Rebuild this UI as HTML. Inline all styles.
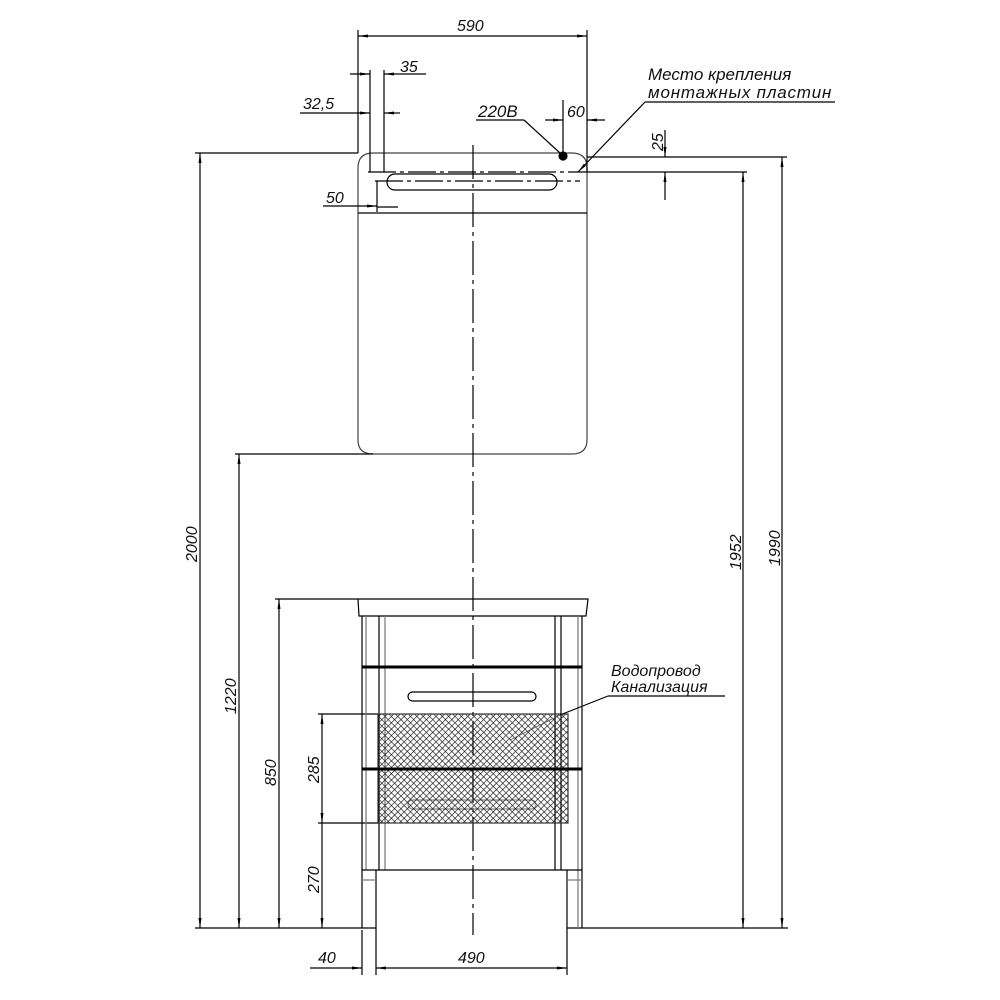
<!DOCTYPE html>
<html><head><meta charset="utf-8"><style>body{margin:0;background:#fff}svg{display:block}text{font-family:"Liberation Sans",sans-serif;font-style:italic;fill:#111}</style></head><body>
<svg width="1000" height="1000" viewBox="0 0 1000 1000" xmlns="http://www.w3.org/2000/svg">
<defs>
<pattern id="h" width="4.5" height="4.5" patternUnits="userSpaceOnUse" patternTransform="rotate(45)"><path d="M0 0H4.5M0 0V4.5" stroke="#111" stroke-width="1.3"/></pattern>
<marker id="a" viewBox="0 0 10 6" refX="10" refY="3" markerWidth="10" markerHeight="5" orient="auto-start-reverse"><path d="M0 1.5L10 3L0 4.5z" fill="#000"/></marker>
</defs>
<g stroke="#000" stroke-width="1.2" fill="none">
<path d="M358 168Q358 153 373 153H572Q587 153 587 168V440Q587 454 572 454H373Q358 454 358 440Z" stroke="#444"/>
<line x1="358" y1="213" x2="587" y2="213"/>
<rect x="387" y="174" width="170" height="16" rx="8"/>
<line x1="368" y1="172" x2="582" y2="172" stroke-dasharray="28 4 4 4"/>
<line x1="375" y1="181" x2="580" y2="181" stroke-dasharray="28 4 4 4"/>
<circle cx="563" cy="156" r="4" fill="#000"/>
<line x1="473" y1="145" x2="473" y2="935" stroke-dasharray="34 5 4 5"/>
<line x1="358" y1="30" x2="358" y2="153"/><line x1="587" y1="30" x2="587" y2="172"/>
<line x1="358" y1="36" x2="587" y2="36" marker-start="url(#a)" marker-end="url(#a)"/>
<line x1="370" y1="70" x2="370" y2="172"/><line x1="384" y1="70" x2="384" y2="172"/>
<line x1="350" y1="74" x2="370" y2="74" marker-end="url(#a)"/><line x1="426" y1="74" x2="384" y2="74" marker-end="url(#a)"/>
<line x1="300" y1="113" x2="370" y2="113" marker-end="url(#a)"/><line x1="400" y1="113" x2="384" y2="113" marker-end="url(#a)"/>
<line x1="377" y1="181" x2="377" y2="212"/>
<line x1="323" y1="206" x2="377" y2="206" marker-end="url(#a)"/><line x1="398" y1="207" x2="377" y2="207"/>
<line x1="476" y1="120" x2="524" y2="120"/><line x1="524" y1="120" x2="560" y2="153"/>
<line x1="545" y1="120" x2="563" y2="120" marker-end="url(#a)"/><line x1="605" y1="120" x2="587" y2="120" marker-end="url(#a)"/>
<line x1="563" y1="100" x2="563" y2="152"/>
<line x1="645" y1="102" x2="835" y2="102"/><line x1="645" y1="102" x2="578" y2="172" marker-end="url(#a)"/>
<line x1="587" y1="157" x2="787" y2="157"/><line x1="582" y1="172" x2="747" y2="172"/>
<line x1="665" y1="130" x2="665" y2="157" marker-end="url(#a)"/><line x1="665" y1="200" x2="665" y2="172" marker-end="url(#a)"/>
<line x1="195" y1="153" x2="358" y2="153"/>
<line x1="200" y1="153" x2="200" y2="928" marker-start="url(#a)" marker-end="url(#a)"/>
<line x1="235" y1="454" x2="373" y2="454"/>
<line x1="239" y1="454" x2="239" y2="928" marker-start="url(#a)" marker-end="url(#a)"/>
<line x1="275" y1="599" x2="358" y2="599"/>
<line x1="279" y1="599" x2="279" y2="928" marker-start="url(#a)" marker-end="url(#a)"/>
<line x1="318" y1="714" x2="378" y2="714"/><line x1="318" y1="823" x2="378" y2="823"/>
<line x1="322" y1="714" x2="322" y2="823" marker-start="url(#a)" marker-end="url(#a)"/>
<line x1="322" y1="823" x2="322" y2="928" marker-end="url(#a)"/>
<line x1="743" y1="172" x2="743" y2="928" marker-start="url(#a)" marker-end="url(#a)"/>
<line x1="782" y1="157" x2="782" y2="928" marker-start="url(#a)" marker-end="url(#a)"/>
<line x1="195" y1="928" x2="376" y2="928"/><line x1="567" y1="928" x2="788" y2="928"/>
<path d="M358 599H588L586 616H359Z"/>
<line x1="362" y1="616" x2="362" y2="928"/><line x1="366" y1="616" x2="366" y2="870" stroke="#777"/>
<line x1="379" y1="616" x2="379" y2="870"/><line x1="385" y1="616" x2="385" y2="870" stroke="#777"/>
<line x1="555" y1="616" x2="555" y2="870"/><line x1="561" y1="616" x2="561" y2="870"/>
<line x1="578" y1="616" x2="578" y2="928" stroke="#777"/><line x1="582" y1="616" x2="582" y2="928"/>
<line x1="362" y1="870" x2="582" y2="870"/>
<line x1="376" y1="870" x2="376" y2="935"/><line x1="567" y1="870" x2="567" y2="935"/>
<line x1="362" y1="880" x2="376" y2="880" stroke="#777"/><line x1="567" y1="880" x2="582" y2="880" stroke="#777"/>
<rect x="408" y="692" width="128" height="9" rx="4.5"/>
<rect x="408" y="800" width="128" height="9" rx="4.5" stroke="#888"/>
<rect x="378" y="714" width="190" height="109" fill="url(#h)" stroke="#333"/>
<line x1="362" y1="667" x2="582" y2="667" stroke-width="3"/>
<line x1="362" y1="769" x2="582" y2="769" stroke-width="3"/>
<line x1="608" y1="696" x2="725" y2="696"/><line x1="608" y1="696" x2="560" y2="715"/><line x1="560" y1="715" x2="510" y2="740" stroke="#555" stroke-width="0.8"/>
<line x1="362" y1="930" x2="362" y2="975"/><line x1="376" y1="935" x2="376" y2="975"/><line x1="567" y1="935" x2="567" y2="975"/>
<line x1="310" y1="968" x2="362" y2="968" marker-end="url(#a)"/><line x1="376" y1="968" x2="567" y2="968" marker-start="url(#a)" marker-end="url(#a)"/>
</g>
<g font-size="16">
<text x="457" y="31">590</text>
<text x="400" y="72">35</text>
<text x="303" y="109">32,5</text>
<text x="326" y="203">50</text>
<text x="478" y="117" font-size="17">220В</text>
<text x="567" y="117">60</text>
<text x="648" y="80" font-size="17">Место крепления</text>
<text x="648" y="98" font-size="17" letter-spacing="0.8">монтажных пластин</text>
<text x="611" y="676">Водопровод</text>
<text x="611" y="692">Канализация</text>
<text x="318" y="963">40</text>
<text x="458" y="963">490</text>
<text transform="translate(663,151) rotate(-90)">25</text>
<text transform="translate(197,562) rotate(-90)">2000</text>
<text transform="translate(236,714) rotate(-90)">1220</text>
<text transform="translate(276,786) rotate(-90)">850</text>
<text transform="translate(319,783) rotate(-90)">285</text>
<text transform="translate(319,893) rotate(-90)">270</text>
<text transform="translate(741,570) rotate(-90)">1952</text>
<text transform="translate(780,566) rotate(-90)">1990</text>
</g>
</svg>
</body></html>
